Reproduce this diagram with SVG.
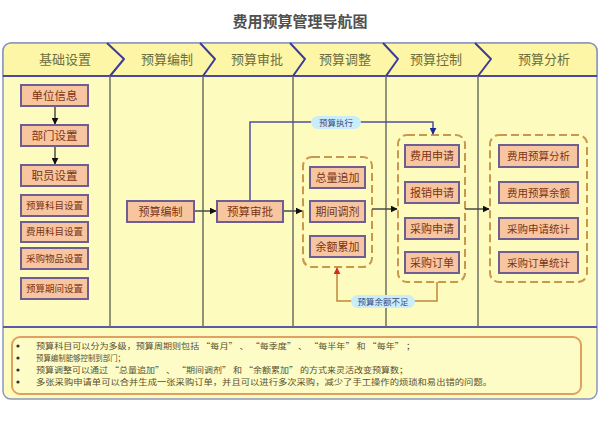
<svg xmlns="http://www.w3.org/2000/svg" width="600" height="424" viewBox="0 0 600 424">
<defs>
<style>
.t{font-family:"Noto Sans CJK SC","Noto Sans",sans-serif;}
.title{font-size:15px;font-weight:bold;fill:#505050;text-anchor:middle;}
.hd{font-size:13px;fill:#6e6e3e;text-anchor:middle;}
.nb rect{fill:#f7c6a0;stroke:#6e5e92;stroke-width:2;}
.nb text{fill:#7a3414;text-anchor:middle;font-family:"Noto Sans CJK SC","Noto Sans",sans-serif;}
.grp{fill:none;stroke:#c9984c;stroke-width:2;stroke-dasharray:8 4;}
.lane{stroke:#6e6e62;stroke-width:1.5;}
.chev{fill:none;stroke:#3c3c96;stroke-width:2;stroke-linejoin:round;}
.flow{fill:none;stroke:#4a4a4a;stroke-width:1.5;}
.pill{fill:#c9eef9;}
.pt{font-size:8.5px;fill:#3a4a80;text-anchor:middle;}
.note{font-size:8px;fill:#5a5030;}
</style>
<marker id="ab" viewBox="0 0 10 10" refX="9" refY="5" markerWidth="7" markerHeight="7" orient="auto" markerUnits="userSpaceOnUse"><path d="M0,0 L10,5 L0,10 z" fill="#111"/></marker>
<marker id="abl" viewBox="0 0 10 10" refX="9" refY="5" markerWidth="7" markerHeight="7" orient="auto" markerUnits="userSpaceOnUse"><path d="M0,0 L10,5 L0,10 z" fill="#1a2a9a"/></marker>
<marker id="ar" viewBox="0 0 10 10" refX="9" refY="5" markerWidth="7" markerHeight="7" orient="auto" markerUnits="userSpaceOnUse"><path d="M0,0 L10,5 L0,10 z" fill="#d82828"/></marker>
</defs>
<rect width="600" height="424" fill="#ffffff"/>
<text class="t title" x="300" y="27">费用预算管理导航图</text>
<g id="frame">
<rect x="3" y="43" width="594" height="356" rx="8" fill="#fefbbf" stroke="#8a96c0" stroke-width="1.5"/>
<path d="M3,76 V51 A8,8 0 0 1 11,43 H589 A8,8 0 0 1 597,51 V76 Z" fill="#fdf6a6" stroke="#8a96c0" stroke-width="1.5"/>
<line x1="3" y1="76" x2="597" y2="76" stroke="#4a4aa2" stroke-width="2"/>
<line x1="3" y1="327" x2="597" y2="327" stroke="#5a5aaa" stroke-width="2"/>
<g class="lanes">
<line class="lane" x1="110" y1="76" x2="110" y2="327"/>
<line class="lane" x1="203" y1="76" x2="203" y2="327"/>
<line class="lane" x1="293" y1="76" x2="293" y2="327"/>
<line class="lane" x1="386" y1="76" x2="386" y2="327"/>
<line class="lane" x1="478" y1="76" x2="478" y2="327"/>
</g>
<path class="chev" d="M107,43 L124,59 L110,76"/>
<path class="chev" d="M200,43 L215,59 L203,76"/>
<path class="chev" d="M290,43 L305,59 L293,76"/>
<path class="chev" d="M383,43 L398,59 L386,76"/>
<path class="chev" d="M475,43 L491,59 L478,76"/>
<text class="t hd" x="65" y="64">基础设置</text>
<text class="t hd" x="167" y="64">预算编制</text>
<text class="t hd" x="257" y="64">预算审批</text>
<text class="t hd" x="345" y="64">预算调整</text>
<text class="t hd" x="436" y="64">预算控制</text>
<text class="t hd" x="544" y="64">预算分析</text>
</g>
<g id="groups">
<rect id="grp-adjust" class="grp" x="303" y="157" width="69" height="110" rx="9"/>
<rect id="grp-control" class="grp" x="398" y="135" width="67" height="147" rx="9"/>
<rect id="grp-analysis" class="grp" x="490" y="135" width="97" height="147" rx="9"/>
</g>
<g id="connectors">
<line class="flow" x1="55" y1="106" x2="55" y2="124" marker-end="url(#ab)"/>
<line class="flow" x1="55" y1="146" x2="55" y2="164" marker-end="url(#ab)"/>
<line class="flow" x1="194" y1="211" x2="216" y2="211" marker-end="url(#ab)"/>
<line class="flow" x1="283" y1="211" x2="302" y2="211" marker-end="url(#ab)"/>
<line class="flow" x1="372" y1="209" x2="397" y2="209" marker-end="url(#ab)"/>
<line class="flow" x1="465" y1="209" x2="489" y2="209" marker-end="url(#ab)"/>
<path d="M250,201 V122 H433 V134" fill="none" stroke="#5050a0" stroke-width="1.5" marker-end="url(#abl)"/>
<path d="M437,282 V301 H337 V268" fill="none" stroke="#c08838" stroke-width="1.5" marker-end="url(#ar)"/>
<rect class="pill" x="311" y="116" width="50" height="13" rx="6.5"/>
<text class="t pt" x="336" y="125.5">预算执行</text>
<rect class="pill" x="351" y="295" width="64" height="13" rx="6.5"/>
<text class="t pt" x="383" y="304.5">预算余额不足</text>
</g>
<g id="n-danwei" class="nb"><rect x="21" y="85" width="67" height="21"/><text x="54.5" y="99.5" font-size="11.5">单位信息</text></g>
<g id="n-bumen" class="nb"><rect x="21" y="125" width="67" height="21"/><text x="54.5" y="139.5" font-size="11.5">部门设置</text></g>
<g id="n-zhiyuan" class="nb"><rect x="21" y="165" width="67" height="21"/><text x="54.5" y="179.5" font-size="11.5">职员设置</text></g>
<g id="n-ysky" class="nb"><rect x="21" y="195" width="67" height="21"/><text x="54.5" y="208.8" font-size="9.5">预算科目设置</text></g>
<g id="n-fyky" class="nb"><rect x="21" y="222" width="67" height="20"/><text x="54.5" y="235.3" font-size="9.5">费用科目设置</text></g>
<g id="n-cgwp" class="nb"><rect x="21" y="248" width="67" height="21"/><text x="54.5" y="261.8" font-size="9.5">采购物品设置</text></g>
<g id="n-ysqj" class="nb"><rect x="21" y="278" width="67" height="21"/><text x="54.5" y="291.8" font-size="9.5">预算期间设置</text></g>
<g id="n-bianzhi" class="nb"><rect x="127" y="201" width="67" height="21"/><text x="160.5" y="215.5" font-size="11">预算编制</text></g>
<g id="n-shenpi" class="nb"><rect x="217" y="201" width="66" height="21"/><text x="250" y="215.5" font-size="11.5">预算审批</text></g>
<g id="n-zlzj" class="nb"><rect x="310" y="167" width="55" height="21"/><text x="337.5" y="181.5" font-size="11">总量追加</text></g>
<g id="n-qjtj" class="nb"><rect x="310" y="201" width="55" height="21"/><text x="337.5" y="215.5" font-size="11">期间调剂</text></g>
<g id="n-yelj" class="nb"><rect x="310" y="236" width="55" height="21"/><text x="337.5" y="250.5" font-size="11">余额累加</text></g>
<g id="n-fysq" class="nb"><rect x="405" y="145" width="54" height="22"/><text x="432" y="160" font-size="11">费用申请</text></g>
<g id="n-bxsq" class="nb"><rect x="405" y="182" width="54" height="21"/><text x="432" y="196.5" font-size="11">报销申请</text></g>
<g id="n-cgsq" class="nb"><rect x="405" y="218" width="54" height="21"/><text x="432" y="232.5" font-size="11">采购申请</text></g>
<g id="n-cgdd" class="nb"><rect x="405" y="252" width="54" height="21"/><text x="432" y="266.5" font-size="11">采购订单</text></g>
<g id="n-fyysfx" class="nb"><rect x="499" y="145" width="79" height="22"/><text x="538.5" y="160" font-size="10.5">费用预算分析</text></g>
<g id="n-fyysye" class="nb"><rect x="499" y="182" width="79" height="21"/><text x="538.5" y="196.5" font-size="10.5">费用预算余额</text></g>
<g id="n-cgsqtj" class="nb"><rect x="499" y="218" width="79" height="21"/><text x="538.5" y="232.5" font-size="10.5">采购申请统计</text></g>
<g id="n-cgddtj" class="nb"><rect x="499" y="252" width="79" height="21"/><text x="538.5" y="266.5" font-size="10.5">采购订单统计</text></g>
<g id="notes">
<rect x="12" y="337" width="569" height="57" rx="8" fill="#fefcc6" stroke="#e0a060" stroke-width="2"/>
<g fill="#333"><circle cx="18" cy="346" r="1.6"/><circle cx="18" cy="358" r="1.6"/><circle cx="18" cy="370" r="1.6"/><circle cx="18" cy="382" r="1.6"/></g>
<text class="t note" x="36" y="349" textLength="379" lengthAdjust="spacingAndGlyphs">预算科目可以分为多级，预算周期则包括 “每月” 、 “每季度” 、 “每半年” 和 “每年” ；</text>
<text class="t note" x="36" y="361" textLength="89" lengthAdjust="spacingAndGlyphs">预算编制能够控制到部门；</text>
<text class="t note" x="36" y="373" textLength="372" lengthAdjust="spacingAndGlyphs">预算调整可以通过 “总量追加” 、 “期间调剂” 和 “余额累加” 的方式来灵活改变预算数；</text>
<text class="t note" x="36" y="385" textLength="456" lengthAdjust="spacingAndGlyphs">多张采购申请单可以合并生成一张采购订单，并且可以进行多次采购，减少了手工操作的烦琐和易出错的问题。</text>
</g>
</svg>
